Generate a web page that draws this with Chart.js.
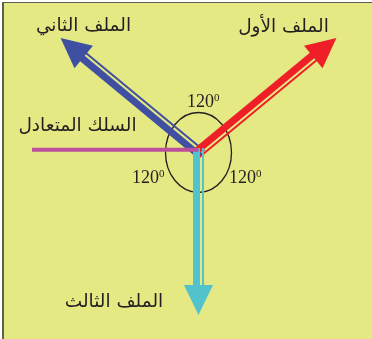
<!DOCTYPE html>
<html><head><meta charset="utf-8">
<script src="https://cdn.jsdelivr.net/npm/chart.js@4"></script>
<style>html,body{margin:0;padding:0;background:#fff}canvas{display:block}</style>
</head><body>
<canvas id="c" width="372" height="339"></canvas>
<script>
// ---- data ----
const phaseLabels = ['الملف الأول', 'الملف الثاني', 'الملف الثالث'];
const phaseAngles = [39.6, 140.4, -90];      // degrees
const phaseMagnitudes = [179, 179, 163];
const neutralLabel = 'السلك المتعادل';
const neutralAngle = 180;
const neutralLength = 166.5;
const angleLabels = ['120', '120', '120'];
const angleSup = '0';

// ---- styles / layout ----
const phaseColors = ['#ee1f26', '#3f4fa2', '#52c3cc'];
const neutralColor = '#bb4f9c';
const bg = '#e4e983';
const thinSide = [1, 1, -1];
const THICK = 7, THIN = 2, THICK_OFF = -2, THIN_OFF = 4.5;
const HEAD_LEN = 30, HEAD_W = 29;
const phaseLabelPos = [[85, 120.3], [-115, 121], [-84.5, -155]];
const neutralLabelPos = [-121, 21];
const angleLabelPos = [[-11.5, 45], [-66.5, -31], [30.5, -31]];

const rad = d => d * Math.PI / 180;
function dirs(a, side) {
  const ux = Math.cos(rad(a)), uy = Math.sin(rad(a));
  return { ux, uy, nx: uy * side, ny: -ux * side };
}

const datasets = [];
phaseAngles.forEach((a, i) => {
  const d = dirs(a, thinSide[i]);
  const m = phaseMagnitudes[i];
  const t0 = -4, t1 = m - HEAD_LEN + 2;
  [[THICK_OFF, THICK], [THIN_OFF, THIN]].forEach(([off, w]) => {
    datasets.push({
      data: [
        { x: t0 * d.ux + off * d.nx, y: t0 * d.uy + off * d.ny },
        { x: t1 * d.ux + off * d.nx, y: t1 * d.uy + off * d.ny }
      ],
      borderColor: phaseColors[i], borderWidth: w, showLine: true,
      pointRadius: 0, borderCapStyle: 'butt', order: i === 2 ? 2 : (i === 0 ? 3 : 4)
    });
  });
});
{
  const d = dirs(neutralAngle, 1);
  datasets.push({
    data: [{ x: 0, y: 2.3 }, { x: neutralLength * d.ux, y: 2.3 + neutralLength * d.uy }],
    borderColor: neutralColor, borderWidth: 4, showLine: true,
    pointRadius: 0, borderCapStyle: 'butt', order: 1
  });
}

const deco = {
  id: 'deco',
  beforeDraw(chart) {
    const ctx = chart.ctx;
    ctx.save();
    ctx.fillStyle = '#fff'; ctx.fillRect(0, 0, 372, 339);
    ctx.fillStyle = bg; ctx.fillRect(2, 2, 370, 337);
    ctx.fillStyle = '#5e5e55';
    ctx.fillRect(2, 2, 370, 1);
    ctx.fillRect(2, 2, 2, 337);
    ctx.restore();
  },
  beforeDatasetsDraw(chart) {
    const ctx = chart.ctx, xs = chart.scales.x, ys = chart.scales.y;
    ctx.save();
    ctx.strokeStyle = '#231f20'; ctx.lineWidth = 1.3;
    ctx.beginPath();
    ctx.ellipse(xs.getPixelForValue(0), ys.getPixelForValue(-0.5), 33, 40, 0, 0, Math.PI * 2);
    ctx.stroke();
    ctx.restore();
  },
  afterDatasetsDraw(chart) {
    const ctx = chart.ctx, xs = chart.scales.x, ys = chart.scales.y;
    const P = (x, y) => [xs.getPixelForValue(x), ys.getPixelForValue(y)];
    ctx.save();
    phaseAngles.forEach((a, i) => {
      const d = dirs(a, 1);
      const m = phaseMagnitudes[i];
      const tip = P(m * d.ux, m * d.uy);
      const b = m - HEAD_LEN;
      const c1 = P(b * d.ux + HEAD_W / 2 * d.nx, b * d.uy + HEAD_W / 2 * d.ny);
      const c2 = P(b * d.ux - HEAD_W / 2 * d.nx, b * d.uy - HEAD_W / 2 * d.ny);
      ctx.fillStyle = phaseColors[i];
      ctx.beginPath();
      ctx.moveTo(tip[0], tip[1]); ctx.lineTo(c1[0], c1[1]); ctx.lineTo(c2[0], c2[1]);
      ctx.closePath(); ctx.fill();
    });
    ctx.fillStyle = '#231f20';
    ctx.textAlign = 'center'; ctx.textBaseline = 'alphabetic';
    ctx.font = '18.5px "DejaVu Sans"';
    phaseLabels.forEach((t, i) => {
      const p = P(phaseLabelPos[i][0], phaseLabelPos[i][1]);
      ctx.fillText(t, p[0], p[1]);
    });
    const np = P(neutralLabelPos[0], neutralLabelPos[1]);
    ctx.fillText(neutralLabel, np[0], np[1]);
    ctx.textAlign = 'left';
    angleLabels.forEach((t, i) => {
      const p = P(angleLabelPos[i][0], angleLabelPos[i][1]);
      ctx.font = '18px "Liberation Serif"';
      ctx.fillText(t, p[0], p[1]);
      const w = ctx.measureText(t).width;
      ctx.font = '11px "Liberation Serif"';
      ctx.fillText(angleSup, p[0] + w, p[1] - 6);
    });
    ctx.restore();
  }
};

new Chart(document.getElementById('c'), {
  type: 'scatter',
  data: { datasets },
  options: {
    responsive: false, animation: false, devicePixelRatio: 1,
    layout: { padding: 0 },
    plugins: { legend: { display: false }, tooltip: { enabled: false } },
    scales: {
      x: { type: 'linear', display: false, min: -198.5, max: 173.5 },
      y: { type: 'linear', display: false, min: -187, max: 152 }
    }
  },
  plugins: [deco]
});
</script>
</body></html>
